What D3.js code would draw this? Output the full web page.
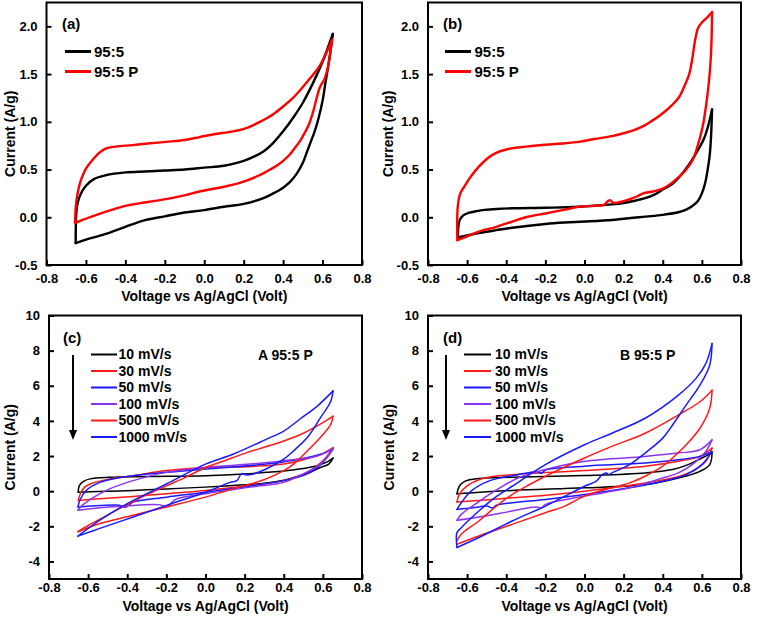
<!DOCTYPE html>
<html><head><meta charset="utf-8">
<script src="https://cdn.jsdelivr.net/npm/d3@7"></script>
<style>
html,body{margin:0;padding:0;background:#fff;}
text{font-family:"Liberation Sans",Arial,sans-serif;font-weight:bold;fill:#000;}
</style></head>
<body><svg id="c" width="757" height="622"></svg>
<script>
// ---------- tick values & labels ----------
const xTicks = [-0.8,-0.6,-0.4,-0.2,0,0.2,0.4,0.6,0.8];
const xTickLabels = ["-0.8","-0.6","-0.4","-0.2","0.0","0.2","0.4","0.6","0.8"];
const yTicksTop = [-0.5,0,0.5,1,1.5,2];
const yTickLabelsTop = ["-0.5","0.0","0.5","1.0","1.5","2.0"];
const yTicksBottom = [-4,-2,0,2,4,6,8,10];
const yTickLabelsBottom = ["-4","-2","0","2","4","6","8","10"];
const legendTop = ["95:5","95:5 P"];
const legendBottom = ["10 mV/s","30 mV/s","50 mV/s","100 mV/s","500 mV/s","1000 mV/s"];
const xTitle = "Voltage vs Ag/AgCl  (Volt)";
const yTitle = "Current (A/g)";

// ---------- panel (a) ----------
const a_95_5_up = [[-0.652,-0.27],[-0.65,0.0],[-0.645,0.12],[-0.635,0.2],[-0.62,0.27],[-0.6,0.33],[-0.56,0.4],[-0.5,0.44],[-0.4,0.47],[-0.3,0.48],[-0.2,0.49],[-0.1,0.5],[0.0,0.52],[0.1,0.54],[0.2,0.59],[0.3,0.69],[0.35,0.78],[0.4,0.9],[0.45,1.04],[0.5,1.2],[0.55,1.4],[0.6,1.63],[0.652,1.92]];
const a_95_5_down = [[0.652,1.92],[0.63,1.6],[0.614,1.4],[0.6,1.22],[0.58,1.04],[0.56,0.9],[0.54,0.79],[0.52,0.68],[0.5,0.57],[0.47,0.46],[0.435,0.37],[0.4,0.31],[0.35,0.25],[0.3,0.2],[0.2,0.14],[0.1,0.11],[0.0,0.075],[-0.1,0.05],[-0.2,0.01],[-0.3,-0.03],[-0.4,-0.1],[-0.5,-0.175],[-0.6,-0.235],[-0.652,-0.27]];
const a_95_5P_up = [[-0.655,-0.06],[-0.652,0.1],[-0.645,0.22],[-0.63,0.36],[-0.618,0.43],[-0.6,0.51],[-0.567,0.6],[-0.53,0.68],[-0.5,0.72],[-0.45,0.74],[-0.364,0.756],[-0.3,0.77],[-0.194,0.79],[-0.1,0.81],[-0.024,0.84],[0.05,0.87],[0.146,0.9],[0.22,0.94],[0.282,1.0],[0.35,1.08],[0.4,1.16],[0.45,1.25],[0.486,1.33],[0.53,1.44],[0.57,1.54],[0.6,1.64],[0.648,1.86]];
const a_95_5P_down = [[0.648,1.86],[0.63,1.6],[0.61,1.45],[0.588,1.37],[0.57,1.25],[0.554,1.12],[0.53,0.97],[0.5,0.85],[0.486,0.8],[0.45,0.7],[0.435,0.66],[0.4,0.59],[0.367,0.54],[0.316,0.48],[0.28,0.44],[0.18,0.36],[0.1,0.32],[-0.024,0.27],[-0.1,0.23],[-0.226,0.18],[-0.33,0.146],[-0.4,0.12],[-0.466,0.08],[-0.568,0.01],[-0.62,-0.03],[-0.655,-0.06]];

// ---------- panel (b) ----------
const b_95_5_up = [[-0.647,-0.21],[-0.645,-0.1],[-0.638,-0.03],[-0.62,0.02],[-0.594,0.045],[-0.55,0.065],[-0.51,0.077],[-0.45,0.087],[-0.37,0.094],[-0.2,0.1],[-0.03,0.11],[0.14,0.135],[0.2,0.15],[0.25,0.17],[0.31,0.2],[0.36,0.24],[0.4,0.29],[0.45,0.35],[0.484,0.42],[0.53,0.54],[0.57,0.67],[0.61,0.82],[0.635,0.98],[0.652,1.13]];
const b_95_5_down = [[0.652,1.13],[0.647,0.85],[0.64,0.65],[0.632,0.53],[0.618,0.37],[0.6,0.25],[0.58,0.17],[0.553,0.12],[0.52,0.08],[0.484,0.055],[0.4,0.025],[0.314,0.007],[0.2,-0.015],[0.14,-0.028],[0.0,-0.045],[-0.1,-0.055],[-0.2,-0.07],[-0.37,-0.11],[-0.45,-0.135],[-0.54,-0.165],[-0.6,-0.19],[-0.647,-0.21]];
const b_95_5P_up = [[-0.65,-0.24],[-0.648,0.11],[-0.635,0.25],[-0.612,0.33],[-0.58,0.43],[-0.54,0.53],[-0.5,0.61],[-0.457,0.67],[-0.4,0.71],[-0.3,0.74],[-0.2,0.76],[-0.1,0.775],[-0.03,0.79],[0.05,0.82],[0.14,0.85],[0.2,0.88],[0.25,0.91],[0.31,0.965],[0.36,1.03],[0.4,1.09],[0.45,1.18],[0.484,1.26],[0.51,1.37],[0.535,1.5],[0.55,1.65],[0.565,1.85],[0.58,1.98],[0.6,2.04],[0.63,2.1],[0.652,2.15]];
const b_95_5P_down = [[0.652,2.15],[0.65,1.9],[0.645,1.65],[0.635,1.4],[0.62,1.15],[0.604,0.95],[0.58,0.76],[0.553,0.6],[0.52,0.5],[0.484,0.425],[0.44,0.35],[0.4,0.3],[0.35,0.27],[0.3,0.25],[0.27,0.22],[0.246,0.2],[0.2,0.17],[0.15,0.15],[0.13,0.18],[0.12,0.17],[0.1,0.13],[0.05,0.12],[-0.03,0.11],[-0.1,0.08],[-0.2,0.04],[-0.3,0.0],[-0.37,-0.045],[-0.45,-0.1],[-0.54,-0.15],[-0.6,-0.2],[-0.65,-0.24]];

// ---------- panel (c) : A 95:5 P ----------
const c_10_up = [[-0.651,-0.06],[-0.645,0.32],[-0.625,0.55],[-0.59,0.7],[-0.49,0.79],[-0.3,0.83],[0.0,0.88],[0.2,0.98],[0.31,1.07],[0.4,1.15],[0.48,1.26],[0.57,1.45],[0.62,1.65],[0.652,1.88]];
const c_10_down = [[0.652,1.88],[0.63,1.54],[0.587,1.35],[0.54,1.1],[0.48,0.88],[0.4,0.62],[0.3,0.45],[0.14,0.32],[0.0,0.23],[-0.2,0.13],[-0.37,0.04],[-0.55,-0.02],[-0.651,-0.06]];
const c_30_up = [[-0.65,-0.53],[-0.64,-0.15],[-0.62,0.2],[-0.59,0.41],[-0.49,0.7],[-0.37,0.88],[-0.2,1.17],[0.0,1.35],[0.18,1.38],[0.3,1.45],[0.4,1.54],[0.48,1.73],[0.59,2.1],[0.652,2.48]];
const c_30_down = [[0.652,2.48],[0.6,1.73],[0.52,1.07],[0.4,0.6],[0.23,0.32],[0.0,0.04],[-0.2,-0.15],[-0.37,-0.3],[-0.54,-0.43],[-0.65,-0.53]];
const c_50_up = [[-0.652,-0.9],[-0.643,-0.53],[-0.61,0.04],[-0.54,0.5],[-0.45,0.75],[-0.37,0.88],[-0.2,1.07],[0.0,1.26],[0.31,1.54],[0.48,1.82],[0.59,2.1],[0.652,2.39]];
const c_50_down = [[0.652,2.39],[0.6,1.64],[0.52,0.98],[0.4,0.6],[0.23,0.3],[0.0,-0.06],[-0.2,-0.34],[-0.37,-0.62],[-0.39,-0.78],[-0.41,-0.92],[-0.44,-0.8],[-0.54,-0.82],[-0.652,-0.9]];
const c_100_up = [[-0.652,-1.09],[-0.63,-0.81],[-0.57,-0.34],[-0.49,0.13],[-0.37,0.6],[-0.2,1.07],[0.0,1.35],[0.23,1.54],[0.4,1.73],[0.57,2.0],[0.652,2.42]];
const c_100_down = [[0.652,2.42],[0.587,1.54],[0.48,0.88],[0.4,0.5],[0.23,0.23],[0.0,-0.15],[-0.15,-0.45],[-0.17,-0.62],[-0.2,-0.9],[-0.23,-0.78],[-0.37,-0.81],[-0.54,-0.94],[-0.652,-1.09]];
const c_500_up = [[-0.652,-2.31],[-0.6,-1.95],[-0.54,-1.6],[-0.45,-1.05],[-0.37,-0.6],[-0.3,-0.2],[-0.2,0.3],[-0.1,0.8],[0.0,1.35],[0.1,1.75],[0.2,2.15],[0.3,2.5],[0.4,2.86],[0.5,3.3],[0.6,3.9],[0.652,4.27]];
const c_500_down = [[0.652,4.27],[0.64,3.8],[0.587,3.05],[0.52,2.29],[0.45,1.54],[0.4,1.17],[0.31,0.7],[0.23,0.41],[0.14,0.13],[0.0,-0.34],[-0.2,-0.9],[-0.37,-1.37],[-0.54,-1.84],[-0.652,-2.31]];
const c_1000_up = [[-0.652,-2.56],[-0.54,-1.65],[-0.4,-0.71],[-0.2,0.41],[0.0,1.54],[0.14,2.1],[0.31,2.95],[0.4,3.42],[0.48,4.08],[0.57,4.83],[0.652,5.71]];
const c_1000_down = [[0.652,5.71],[0.64,5.1],[0.587,4.17],[0.52,3.05],[0.45,2.29],[0.4,1.82],[0.31,1.26],[0.245,0.98],[0.21,0.92],[0.185,1.0],[0.16,0.6],[0.125,0.5],[0.0,-0.06],[-0.2,-0.81],[-0.37,-1.47],[-0.54,-2.12],[-0.652,-2.56]];

// ---------- panel (d) : B 95:5 P ----------
const d_10_up = [[-0.652,-0.15],[-0.64,0.28],[-0.61,0.57],[-0.54,0.72],[-0.37,0.79],[0.0,0.89],[0.31,1.04],[0.45,1.23],[0.53,1.51],[0.6,1.89],[0.652,2.17]];
const d_10_down = [[0.652,2.17],[0.64,1.51],[0.59,1.13],[0.48,0.75],[0.31,0.38],[0.0,0.19],[-0.37,0.04],[-0.652,-0.15]];
const d_30_up = [[-0.652,-0.62],[-0.64,-0.19],[-0.59,0.38],[-0.51,0.75],[-0.37,0.94],[0.0,1.17],[0.31,1.42],[0.48,1.7],[0.59,1.98],[0.652,2.45]];
const d_30_down = [[0.652,2.45],[0.62,1.7],[0.55,1.13],[0.45,0.75],[0.31,0.47],[0.14,0.19],[0.0,0.0],[-0.2,-0.23],[-0.37,-0.38],[-0.54,-0.53],[-0.652,-0.62]];
const d_50_up = [[-0.652,-1.04],[-0.63,-0.66],[-0.58,0.0],[-0.49,0.57],[-0.34,0.94],[-0.24,1.1],[-0.22,1.02],[-0.2,1.2],[0.0,1.42],[0.31,1.6],[0.48,1.79],[0.59,1.98],[0.652,2.26]];
const d_50_down = [[0.652,2.26],[0.6,1.51],[0.52,0.94],[0.4,0.57],[0.23,0.19],[0.0,-0.19],[-0.2,-0.47],[-0.37,-0.66],[-0.45,-0.8],[-0.47,-0.95],[-0.5,-0.85],[-0.57,-0.95],[-0.652,-1.04]];
const d_100_up = [[-0.652,-1.66],[-0.63,-1.32],[-0.56,-0.75],[-0.46,0.0],[-0.34,0.75],[-0.2,1.23],[0.0,1.7],[0.31,1.98],[0.48,2.17],[0.59,2.36],[0.652,2.92]];
const d_100_down = [[0.652,2.92],[0.62,2.26],[0.55,1.51],[0.48,1.04],[0.4,0.75],[0.23,0.19],[0.0,-0.28],[-0.2,-0.75],[-0.22,-0.95],[-0.25,-0.9],[-0.37,-1.13],[-0.54,-1.47],[-0.652,-1.66]];
const d_500_up = [[-0.652,-2.83],[-0.63,-2.45],[-0.54,-1.7],[-0.46,-0.94],[-0.37,-0.19],[-0.28,0.38],[-0.2,0.85],[0.0,1.89],[0.14,2.55],[0.31,3.3],[0.48,4.34],[0.59,5.09],[0.652,5.75]];
const d_500_down = [[0.652,5.75],[0.64,4.72],[0.59,3.58],[0.52,2.64],[0.45,1.89],[0.4,1.42],[0.31,0.85],[0.23,0.47],[0.14,0.19],[0.0,-0.28],[-0.1,-0.85],[-0.2,-1.23],[-0.37,-1.89],[-0.54,-2.55],[-0.652,-3.02]];
const d_1000_up = [[-0.652,-3.21],[-0.652,-2.36],[-0.63,-2.08],[-0.54,-1.13],[-0.46,-0.38],[-0.37,0.28],[-0.2,1.51],[0.0,2.64],[0.14,3.3],[0.31,4.15],[0.48,5.47],[0.57,6.42],[0.62,7.26],[0.652,8.4]];
const d_1000_down = [[0.652,8.4],[0.64,7.17],[0.59,6.04],[0.52,4.91],[0.45,3.77],[0.4,3.02],[0.31,2.17],[0.23,1.51],[0.14,1.04],[0.125,0.94],[0.11,1.04],[0.09,0.94],[0.06,0.57],[0.0,0.28],[-0.1,-0.28],[-0.2,-0.85],[-0.37,-1.7],[-0.54,-2.64],[-0.652,-3.21]];

const colBlack = "#000000", colRed = "#ff1a1a", colBlue = "#1a1aff", colPurple = "#8c33f0";

const svg = d3.select("#c");

function drawPanel(p) {
  const x = d3.scaleLinear().domain([-0.8, 0.8]).range([p.left, p.right]);
  const y = d3.scaleLinear().domain(p.yDomain).range([p.bottom, p.top]);
  const g = svg.append("g");

  // axes (inward ticks)
  const xa = g.append("g").attr("transform", `translate(0,${p.bottom})`)
    .call(d3.axisBottom(x).tickValues(xTicks).tickFormat((d, i) => xTickLabels[i])
      .tickSizeInner(-5).tickSizeOuter(0).tickPadding(p.xPad));
  xa.select(".domain").remove();
  xa.selectAll("line").attr("stroke", "#000").attr("stroke-width", 2);
  xa.selectAll("text").attr("font-size", 13).attr("font-family", null).style("font-weight", "bold");

  const ya = g.append("g").attr("transform", `translate(${p.left},0)`)
    .call(d3.axisLeft(y).tickValues(p.yTicks).tickFormat((d, i) => p.yLabels[i])
      .tickSizeInner(-5).tickSizeOuter(0).tickPadding(p.yPad));
  ya.select(".domain").remove();
  ya.selectAll("line").attr("stroke", "#000").attr("stroke-width", 2);
  ya.selectAll("text").attr("font-size", 13).attr("font-family", null).style("font-weight", "bold");

  // frame
  g.append("rect").attr("x", p.left).attr("y", p.top)
    .attr("width", p.right - p.left).attr("height", p.bottom - p.top)
    .attr("fill", "none").attr("stroke", "#000").attr("stroke-width", 2);

  // curves
  const line = d3.line().x(d => x(d[0])).y(d => y(d[1])).curve(d3.curveCatmullRom.alpha(0.5));
  p.series.forEach(s => {
    [s.up, s.down].forEach(br => {
      g.append("path").attr("d", line(br)).attr("fill", "none")
        .attr("stroke", s.color).attr("stroke-width", p.lw)
        .attr("stroke-linejoin", "round").attr("stroke-linecap", "round");
    });
  });

  // legend
  p.series.forEach((s, i) => {
    const ly = p.legY + i * p.legStep;
    g.append("line").attr("x1", p.legX1).attr("x2", p.legX2).attr("y1", ly).attr("y2", ly)
      .attr("stroke", s.color).attr("stroke-width", p.legLw);
    g.append("text").attr("x", p.legTx).attr("y", ly).attr("dy", "0.35em")
      .attr("font-size", p.legFs).text(s.name);
  });

  // panel label
  g.append("text").attr("x", p.labX).attr("y", p.labY).attr("dy", "0.35em")
    .attr("font-size", 15).text(p.label);

  // axis titles
  g.append("text").attr("x", (p.left + p.right) / 2).attr("y", p.xTitleY).attr("dy", "0.35em")
    .attr("text-anchor", "middle").attr("font-size", 14).text(xTitle);
  g.append("text").attr("transform", `translate(${p.yTitleX},${(p.top + p.bottom) / 2}) rotate(-90)`)
    .attr("dy", "0.35em").attr("text-anchor", "middle").attr("font-size", 14).text(yTitle);

  if (p.tag) {
    g.append("text").attr("x", p.tagX).attr("y", p.tagY).attr("dy", "0.35em")
      .attr("font-size", 14).text(p.tag);
  }
  if (p.arrowX) {
    g.append("line").attr("x1", p.arrowX).attr("x2", p.arrowX).attr("y1", p.arrowY1).attr("y2", p.arrowY2 - 8)
      .attr("stroke", "#000").attr("stroke-width", 2);
    g.append("path").attr("d", `M${p.arrowX - 4},${p.arrowY2 - 10}L${p.arrowX + 4},${p.arrowY2 - 10}L${p.arrowX},${p.arrowY2}Z`)
      .attr("fill", "#000");
  }
}

const topCommon = { top: 2.5, bottom: 265, yDomain: [-0.5, 2.25], yTicks: yTicksTop, yLabels: yTickLabelsTop,
  xPad: 9, yPad: 9, lw: 2.4, legY: 51.5, legStep: 20, legLw: 3, legFs: 15, xTitleY: 296, labY: 24 };
const botCommon = { top: 315.5, bottom: 579, yDomain: [-5, 10], yTicks: yTicksBottom, yLabels: yTickLabelsBottom,
  xPad: 4, yPad: 9, lw: 1.5, legY: 354.5, legStep: 16.5, legLw: 2, legFs: 14, xTitleY: 606, labY: 337.5,
  tagY: 355, arrowY1: 355, arrowY2: 440 };

drawPanel(Object.assign({}, topCommon, { left: 46.5, right: 362, label: "(a)", labX: 62,
  yTitleX: 10, legX1: 65, legX2: 91, legTx: 94,
  series: [{ name: legendTop[0], color: colBlack, up: a_95_5_up, down: a_95_5_down },
           { name: legendTop[1], color: "#ff0000", up: a_95_5P_up, down: a_95_5P_down }] }));

drawPanel(Object.assign({}, topCommon, { left: 428, right: 741, label: "(b)", labX: 443,
  yTitleX: 388, legX1: 445, legX2: 471, legTx: 474.5,
  series: [{ name: legendTop[0], color: colBlack, up: b_95_5_up, down: b_95_5_down },
           { name: legendTop[1], color: "#ff0000", up: b_95_5P_up, down: b_95_5P_down }] }));

const seriesColors = [colBlack, colRed, colBlue, colPurple, colRed, colBlue];

drawPanel(Object.assign({}, botCommon, { left: 49, right: 362, label: "(c)", labX: 63,
  yTitleX: 10, legX1: 91, legX2: 117, legTx: 118.5, tag: "A 95:5 P", tagX: 258, arrowX: 73,
  series: [[c_10_up, c_10_down], [c_30_up, c_30_down], [c_50_up, c_50_down], [c_100_up, c_100_down],
           [c_500_up, c_500_down], [c_1000_up, c_1000_down]]
    .map((b, i) => ({ name: legendBottom[i], color: seriesColors[i], up: b[0], down: b[1] })) }));

drawPanel(Object.assign({}, botCommon, { left: 428, right: 741, label: "(d)", labX: 443,
  yTitleX: 389, legX1: 464, legX2: 491, legTx: 495, tag: "B 95:5 P", tagX: 620, arrowX: 446,
  series: [[d_10_up, d_10_down], [d_30_up, d_30_down], [d_50_up, d_50_down], [d_100_up, d_100_down],
           [d_500_up, d_500_down], [d_1000_up, d_1000_down]]
    .map((b, i) => ({ name: legendBottom[i], color: seriesColors[i], up: b[0], down: b[1] })) }));
</script></body></html>
